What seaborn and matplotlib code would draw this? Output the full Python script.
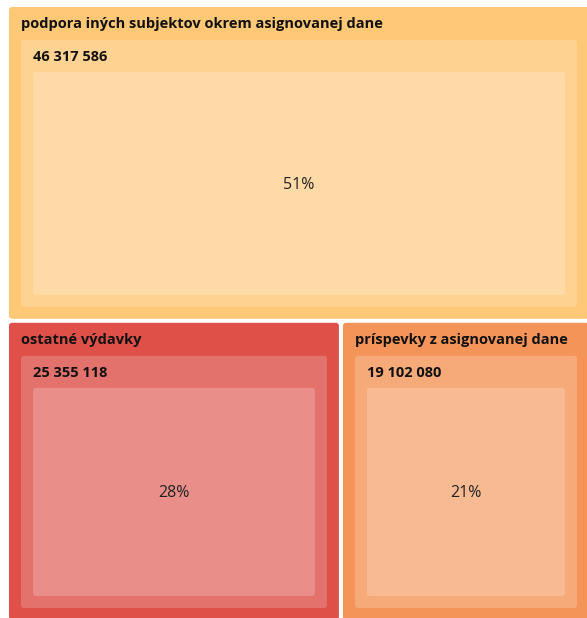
import matplotlib
matplotlib.use("Agg")
import matplotlib.pyplot as plt
from matplotlib.patches import FancyBboxPatch
import seaborn as sns

# data
labels = ["podpora iných subjektov okrem asignovanej dane",
          "ostatné výdavky",
          "príspevky z asignovanej dane"]
values = [46317586, 25355118, 19102080]
colors = ["#FEC876", "#DE5048", "#F49458"]

sns.set_theme(style="white")
plt.rcParams["font.family"] = ["Open Sans", "DejaVu Sans"]

W, H = 587, 618
fig = plt.figure(figsize=(W / 100, H / 100), dpi=100)
ax = fig.add_axes([0, 0, 1, 1])
ax.set_xlim(0, W)
ax.set_ylim(H, 0)
ax.axis("off")

# treemap area (pixels), first item as top strip, rest side by side
x0, y0, x1, y1 = 9, 7, 591, 622
gap = 2
total = sum(values)
top_h = (y1 - y0) * values[0] / total
rects = [(x0, y0, x1, y0 + top_h)]
rest = sum(values[1:])
cx = x0
for v in values[1:]:
    w = (x1 - x0) * v / rest
    rects.append((cx, y0 + top_h, cx + w, y1))
    cx += w


def box(xa, ya, xb, yb, fc, alpha=1.0):
    p = FancyBboxPatch((xa, ya), xb - xa, yb - ya,
                       boxstyle="round,pad=0,rounding_size=3",
                       fc=fc, ec="none", alpha=alpha)
    ax.add_patch(p)


for (ra, rb, rc, rd), lab, val, col in zip(rects, labels, values, colors):
    xa, ya, xb, yb = ra + (gap if ra > x0 else 0), rb + (gap if rb > y0 else 0), rc - gap, rd - gap
    box(xa, ya, xb, yb, col)
    ax.text(xa + 12, ya + 17, lab, fontsize=10.5, fontweight="bold",
            color="#111111", va="center", ha="left")
    # level 2
    l2 = (xa + 12, ya + 33, xb - 12, yb - 12)
    box(*l2, "white", 0.2)
    ax.text(l2[0] + 12, l2[1] + 17, f"{val:,}".replace(",", " "), fontsize=10.5,
            fontweight="bold", color="#111111", va="center", ha="left")
    # level 3
    l3 = (l2[0] + 12, l2[1] + 32, l2[2] - 12, l2[3] - 12)
    box(*l3, "white", 0.2)
    pct = round(val / total * 100)
    ax.text((l3[0] + l3[2]) / 2, (l3[1] + l3[3]) / 2 + 1.5, f"{pct}%", fontsize=11.5,
            color="#222222", va="center", ha="center")

fig.savefig("out.png", dpi=100)
